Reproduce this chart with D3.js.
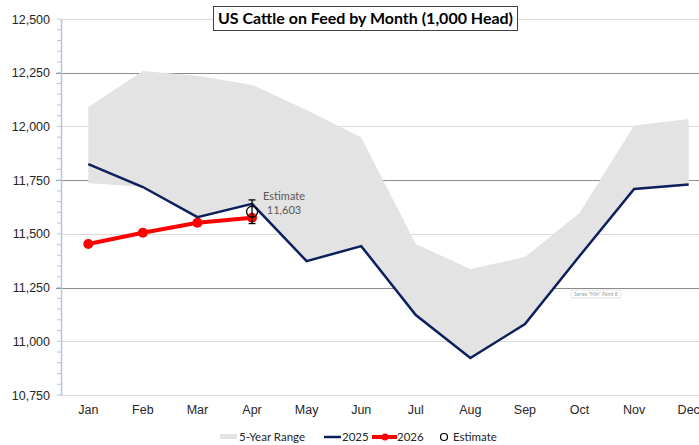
<!DOCTYPE html>
<html>
<head>
<meta charset="utf-8">
<script src="https://cdn.jsdelivr.net/npm/d3@7"></script>
<style>
  body { margin: 0; background: #fff; }
  svg { display: block; font-family: Lato, "Open Sans", sans-serif; }
</style>
</head>
<body>
<div id="chart"></div>
<script>
const months = ["Jan", "Feb", "Mar", "Apr", "May", "Jun", "Jul", "Aug", "Sep", "Oct", "Nov", "Dec"];
const rangeMax = [12090, 12258, 12236, 12193, 12076, 11949, 11453, 11336, 11392, 11597, 12004, 12034];
const rangeMin = [11737, 11718, 11578, 11640, 11373, 11443, 11122, 10922, 11080, 11397, 11709, 11730];
const cof2025 = [11825, 11718, 11578, 11640, 11373, 11443, 11122, 10922, 11080, 11397, 11709, 11730];
const cof2026 = [11453, 11505, 11552, 11575];
const estimate = { month: "Apr", value: 11603, err: 55 };
const yTicks = [10750, 11000, 11250, 11500, 11750, 12000, 12250, 12500];

const W = 699, H = 445;
const svg = d3.select("#chart").append("svg")
    .attr("width", W)
    .attr("height", H);

// Scales
const x = d3.scaleBand()
    .domain(months)
    .range([61, 716]);
const cx = m => x(m) + x.bandwidth() / 2;

const y = d3.scaleLinear()
    .domain([10750, 12500])
    .range([395, 19]);

// Gridlines (darker every other one, like the original)
const darkLines = [11250, 11750, 12250];
svg.append("g")
    .selectAll("line")
    .data(yTicks.slice(1))
    .enter()
    .append("line")
    .attr("x1", d => darkLines.includes(d) ? 56 : 61)
    .attr("x2", W)
    .attr("y1", d => Math.round(y(d)) + 0.5)
    .attr("y2", d => Math.round(y(d)) + 0.5)
    .attr("stroke", d => darkLines.includes(d) ? "#8c8c8c" : "#dadada")
    .attr("stroke-width", 1);

// bottom axis line
svg.append("line")
    .attr("x1", 61).attr("x2", W)
    .attr("y1", Math.round(y(10750)) + 0.5).attr("y2", Math.round(y(10750)) + 0.5)
    .attr("stroke", "#d6dbe6");

// 5-year range band
const area = d3.area()
    .x((d, i) => cx(months[i]))
    .y0((d, i) => y(rangeMin[i]))
    .y1(d => y(d));

svg.append("path")
    .datum(rangeMax)
    .attr("d", area)
    .attr("fill", "#e3e3e3");

// Y axis
const yAxis = d3.axisLeft(y)
    .tickValues(yTicks)
    .tickFormat(d3.format(","))
    .tickSize(0)
    .tickPadding(11);

const yg = svg.append("g")
    .attr("transform", "translate(61,0)")
    .call(yAxis);
yg.select(".domain").attr("stroke", "#b9c6dd").attr("stroke-width", 1.5);
yg.selectAll("text")
    .style("font-size", "12.5px")
    .style("fill", "#262626");

// minor ticks every 50
svg.append("g")
    .selectAll("line")
    .data(d3.range(10750, 12501, 50))
    .enter()
    .append("line")
    .attr("x1", 57).attr("x2", 61)
    .attr("y1", d => y(d)).attr("y2", d => y(d))
    .attr("stroke", "#b9c6dd")
    .attr("stroke-width", 1);

// X axis labels
const xAxis = d3.axisBottom(x).tickSize(0).tickPadding(10);
const xg = svg.append("g")
    .attr("transform", "translate(0,395)")
    .call(xAxis);
xg.select(".domain").remove();
xg.selectAll("text")
    .style("font-size", "12.5px")
    .style("fill", "#262626");

// 2025 line
const line = d3.line()
    .x((d, i) => cx(months[i]))
    .y(d => y(d));

svg.append("path")
    .datum(cof2025)
    .attr("d", line)
    .attr("fill", "none")
    .attr("stroke", "#0d1f5c")
    .attr("stroke-width", 2.5)
    .attr("stroke-linejoin", "miter");

// 2026 line
svg.append("path")
    .datum(cof2026)
    .attr("d", line)
    .attr("fill", "none")
    .attr("stroke", "#ff0000")
    .attr("stroke-width", 4);

svg.selectAll(".dot26")
    .data(cof2026)
    .enter()
    .append("circle")
    .attr("cx", (d, i) => cx(months[i]))
    .attr("cy", d => y(d))
    .attr("r", 5)
    .attr("fill", "#ff0000");

// Estimate with error bar
const ex = cx(estimate.month);
const eg = svg.append("g").attr("stroke", "#000").attr("stroke-width", 1.3);
eg.append("line")
    .attr("x1", ex).attr("x2", ex)
    .attr("y1", y(estimate.value + estimate.err))
    .attr("y2", y(estimate.value - estimate.err));
[estimate.value + estimate.err, estimate.value - estimate.err].forEach(v => {
    eg.append("line")
        .attr("x1", ex - 3.5).attr("x2", ex + 3.5)
        .attr("y1", y(v)).attr("y2", y(v));
});
svg.append("circle")
    .attr("cx", ex)
    .attr("cy", y(estimate.value))
    .attr("r", 5.5)
    .attr("fill", "none")
    .attr("stroke", "#000")
    .attr("stroke-width", 1.3);

svg.append("text")
    .attr("x", ex + 32)
    .attr("y", y(estimate.value) - 12)
    .attr("text-anchor", "middle")
    .style("font-size", "11px")
    .style("fill", "#595959")
    .text("Estimate");
svg.append("text")
    .attr("x", ex + 32)
    .attr("y", y(estimate.value) + 2)
    .attr("text-anchor", "middle")
    .style("font-size", "11px")
    .style("fill", "#595959")
    .text(d3.format(",")(estimate.value));

// stray Excel tooltip left in the screenshot
const tip = svg.append("g").attr("transform", "translate(571,290)");
tip.append("rect")
    .attr("width", 50).attr("height", 8)
    .attr("fill", "#fff")
    .attr("stroke", "#d0d0d0")
    .attr("stroke-width", 0.6);
tip.append("text")
    .attr("x", 3).attr("y", 6)
    .style("font-size", "5px")
    .style("fill", "#9a9a9a")
    .text("Series \"Min\" Point 8");

// Title
svg.append("rect")
    .attr("x", 213.5).attr("y", 6.5)
    .attr("width", 304).attr("height", 24)
    .attr("fill", "#fff")
    .attr("stroke", "#404040")
    .attr("stroke-width", 1);
svg.append("text")
    .attr("x", 365.5)
    .attr("y", 24)
    .attr("text-anchor", "middle")
    .attr("textLength", 295)
    .attr("lengthAdjust", "spacingAndGlyphs")
    .style("font-size", "16px")
    .style("font-weight", "bold")
    .style("fill", "#000")
    .text("US Cattle on Feed by Month (1,000 Head)");

// Legend
const lg = svg.append("g").attr("transform", "translate(0,437)");
const legendFont = "11.5px";
const legendFill = "#262626";

lg.append("rect")
    .attr("x", 220).attr("y", -3)
    .attr("width", 17).attr("height", 5)
    .attr("fill", "#e3e3e3");
lg.append("text").attr("x", 239).attr("y", 4)
    .style("font-size", legendFont).style("fill", legendFill)
    .text("5-Year Range");

lg.append("line")
    .attr("x1", 324).attr("x2", 341).attr("y1", 0).attr("y2", 0)
    .attr("stroke", "#0d1f5c").attr("stroke-width", 2.5);
lg.append("text").attr("x", 342).attr("y", 4)
    .style("font-size", legendFont).style("fill", legendFill)
    .text("2025");

lg.append("line")
    .attr("x1", 372).attr("x2", 397).attr("y1", 0).attr("y2", 0)
    .attr("stroke", "#ff0000").attr("stroke-width", 4);
lg.append("circle")
    .attr("cx", 385).attr("cy", 0).attr("r", 3.5)
    .attr("fill", "#ff0000");
lg.append("text").attr("x", 397).attr("y", 4)
    .style("font-size", legendFont).style("fill", legendFill)
    .text("2026");

lg.append("circle")
    .attr("cx", 444).attr("cy", 0).attr("r", 3.5)
    .attr("fill", "none")
    .attr("stroke", "#000")
    .attr("stroke-width", 1.2);
lg.append("text").attr("x", 453).attr("y", 4)
    .style("font-size", legendFont).style("fill", legendFill)
    .text("Estimate");
</script>
</body>
</html>
